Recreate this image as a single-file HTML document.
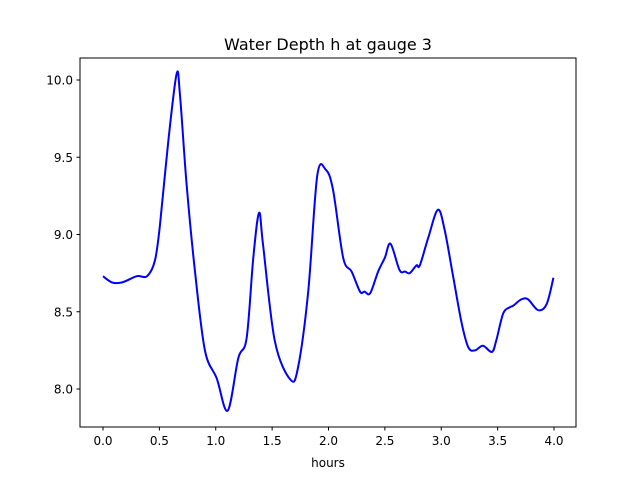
<!DOCTYPE html>
<html><head><meta charset="utf-8"><style>
body{margin:0;background:#fff;}
svg text{font-family:"DejaVu Sans","Liberation Sans",sans-serif;}
</style></head><body>
<svg id="chart" width="640" height="480" viewBox="0 0 640 480" xmlns="http://www.w3.org/2000/svg">
<rect width="640" height="480" fill="#fff"/>
<text x="328" y="50" font-size="16" text-anchor="middle">Water Depth h at gauge 3</text>
<g id="axes"></g>
<rect x="80" y="58" width="496" height="369" fill="none" stroke="#000" stroke-width="1"/>
<text x="328" y="467" font-size="12" text-anchor="middle">hours</text>
</svg>
<script>
const times=[0,0.08,0.17,0.30,0.39,0.46,0.505,0.58,0.653,0.683,0.742,0.816,0.904,1.008,1.106,1.20,1.274,1.333,1.384,1.42,1.524,1.663,1.73,1.82,1.90,1.975,2.04,2.13,2.205,2.28,2.32,2.37,2.44,2.50,2.55,2.63,2.68,2.72,2.78,2.81,2.885,2.97,3.03,3.105,3.18,3.24,3.30,3.37,3.45,3.49,3.55,3.61,3.64,3.71,3.77,3.86,3.935,3.995];
const depths=[8.73,8.69,8.69,8.73,8.73,8.83,9.06,9.61,10.04,9.90,9.32,8.76,8.25,8.07,7.86,8.20,8.33,8.85,9.14,8.93,8.31,8.06,8.14,8.63,9.38,9.42,9.29,8.85,8.76,8.63,8.63,8.62,8.76,8.85,8.94,8.77,8.76,8.75,8.80,8.80,8.98,9.16,9.03,8.73,8.43,8.27,8.25,8.28,8.24,8.32,8.49,8.53,8.54,8.58,8.58,8.51,8.55,8.72];
const xTicks=[0,0.5,1,1.5,2,2.5,3,3.5,4];
const xTickLabels=["0.0","0.5","1.0","1.5","2.0","2.5","3.0","3.5","4.0"];
const yTicks=[8,8.5,9,9.5,10];
const yTickLabels=["8.0","8.5","9.0","9.5","10.0"];
const xs=t=>103+t*112.75;
const ys=v=>389-(v-8)*154.5;
const NS="http://www.w3.org/2000/svg";
const svg=document.getElementById('chart');
const g=document.getElementById('axes');
function mk(tag,attrs,parent){const e=document.createElementNS(NS,tag);for(const k in attrs)e.setAttribute(k,attrs[k]);(parent||g).appendChild(e);return e;}
xTicks.forEach((t,i)=>{
  const l=mk('line',{x1:xs(t),x2:xs(t),y1:427,y2:430.5,stroke:'#000'});
  
  
  const tx=mk('text',{x:xs(t),y:445,'font-size':12,'text-anchor':'middle'});
  tx.textContent=xTickLabels[i];
  
  
});
yTicks.forEach((v,i)=>{
  const l=mk('line',{x1:76.5,x2:80,y1:ys(v),y2:ys(v),stroke:'#000'});
  
  
  const tx=mk('text',{x:73,y:ys(v)+4.5,'font-size':12,'text-anchor':'end'});
  tx.textContent=yTickLabels[i];
  
  
});
const P=times.map((t,i)=>[xs(t),ys(depths[i])]);
let d='M'+P[0][0]+','+P[0][1];
for(let i=0;i<P.length-1;i++){
  const p0=P[Math.max(0,i-1)],p1=P[i],p2=P[i+1],p3=P[Math.min(P.length-1,i+2)];
  const c1=[p1[0]+(p2[0]-p0[0])/6,p1[1]+(p2[1]-p0[1])/6];
  const c2=[p2[0]-(p3[0]-p1[0])/6,p2[1]-(p3[1]-p1[1])/6];
  d+=' C'+c1[0]+','+c1[1]+' '+c2[0]+','+c2[1]+' '+p2[0]+','+p2[1];
}
const path=mk('path',{d:d,fill:'none',stroke:'#0000ff','stroke-width':2,'stroke-linejoin':'round'});


</script>
</body></html>
